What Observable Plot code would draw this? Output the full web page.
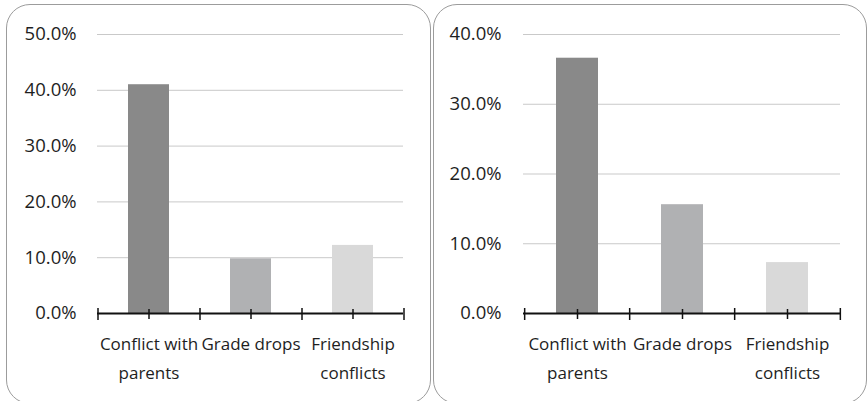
<!DOCTYPE html>
<html>
<head>
<meta charset="utf-8">
<script src="https://cdn.jsdelivr.net/npm/d3@7"></script>
<script src="https://cdn.jsdelivr.net/npm/@observablehq/plot@0.6"></script>
<style>
  body { margin: 0; background: #fff; width: 868px; height: 401px; overflow: hidden; position: relative; font-family: "Open Sans", sans-serif; }
  .panel { position: absolute; box-sizing: border-box; top: 4px; height: 400px; border: 1.3px solid #9c9c9c; border-radius: 24px; }
  #leftFrame { left: 6px; width: 425px; }
  #rightFrame { left: 433px; width: 434px; }
  .chart { position: absolute; top: 0; }
  .chart svg { overflow: visible; }
</style>
</head>
<body>
<div class="panel" id="leftFrame"></div>
<div class="panel" id="rightFrame"></div>
<div class="chart" id="leftChart" style="left:0px"></div>
<div class="chart" id="rightChart" style="left:434px"></div>
<script>
// Categories and their wrapped axis labels
const categories = ["Conflict with parents", "Grade drops", "Friendship conflicts"];
const categoryLabels = ["Conflict with\nparents", "Grade drops", "Friendship\nconflicts"];

// Shares (%) for each panel
const leftValues = [41.0, 9.8, 12.2];
const rightValues = [36.6, 15.6, 7.3];

// Y-axis ticks for each panel
const leftTicks = [0, 10, 20, 30, 40, 50];
const rightTicks = [0, 10, 20, 30, 40];

const barColors = ["#898989", "#b0b1b3", "#d9d9d9"];
const font = "'Open Sans', sans-serif";

function drawPanel(values, ticks, marginLeft, marginRight, tickPadding) {
  const width = 434, height = 401, marginTop = 34, marginBottom = 88;
  const paddingInner = 0.6, paddingOuter = 0.3;
  const step = (width - marginLeft - marginRight) / (categories.length - paddingInner + 2 * paddingOuter);
  const rows = categories.map((c, i) => ({category: c, value: values[i], label: categoryLabels[i]}));
  return Plot.plot({
    width, height, marginTop, marginRight, marginBottom, marginLeft,
    style: {fontFamily: font, fontSize: "17px", color: "#1e1e1e", background: "transparent"},
    x: {domain: categories, paddingInner, paddingOuter, axis: null},
    y: {domain: [0, d3.max(ticks)], axis: null},
    color: {domain: categories, range: barColors},
    marks: [
      Plot.gridY(ticks.filter(t => t > 0), {stroke: "#c9c9c9", strokeOpacity: 1, strokeWidth: 1}),
      Plot.axisY(ticks, {tickSize: 0, tickPadding, tickFormat: d => d.toFixed(1) + "%", fontSize: 18.5, fill: "#1e1e1e", label: null}),
      Plot.barY(rows, {x: "category", y: "value", fill: "category"}),
      Plot.ruleY([0], {stroke: "#111", strokeWidth: 2}),
      // minor ticks at category centres
      Plot.axisX({tickSize: 10, dy: -4, fill: "none", stroke: "#111", strokeWidth: 1.5, label: null}),
      // major ticks at category boundaries
      Plot.axisX(categories, {tickSize: 12, dy: -5, dx: -step / 2, fill: "none", stroke: "#111", strokeWidth: 1.5, label: null}),
      Plot.axisX(categories.slice(-1), {tickSize: 12, dy: -5, dx: step / 2, fill: "none", stroke: "#111", strokeWidth: 1.5, label: null}),
      Plot.text(rows, {x: "category", y: 0, text: "label", lineAnchor: "top", dy: 16, lineHeight: 1.69, fontSize: 17, fill: "#1e1e1e"})
    ]
  });
}

document.getElementById("leftChart").append(drawPanel(leftValues, leftTicks, 97, 31, 21));
document.getElementById("rightChart").append(drawPanel(rightValues, rightTicks, 89, 28, 22));
</script>
</body>
</html>
